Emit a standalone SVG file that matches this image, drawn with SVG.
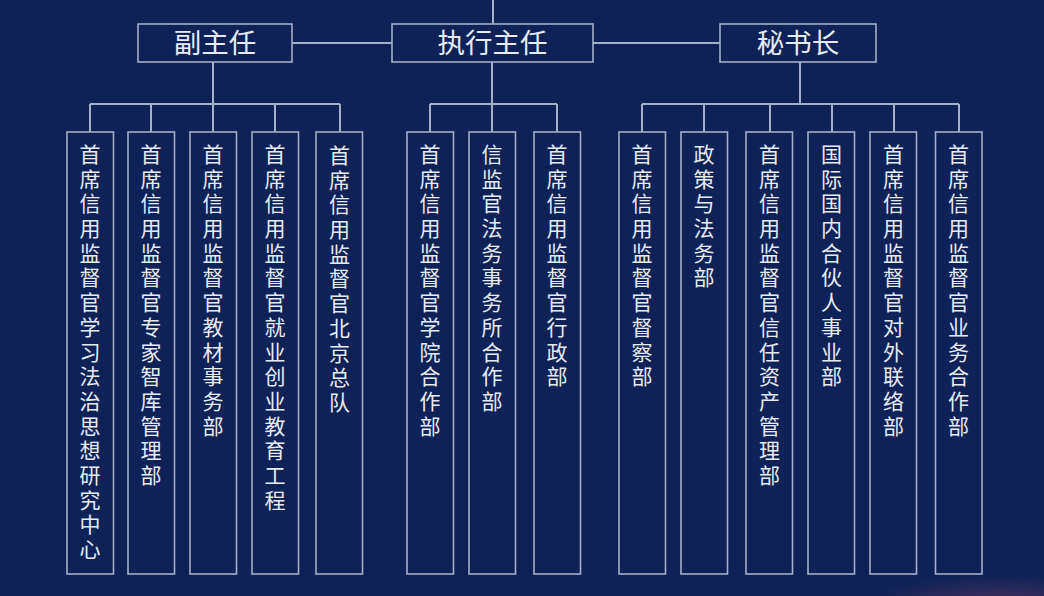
<svg xmlns="http://www.w3.org/2000/svg" width="1044" height="596" viewBox="0 0 1044 596">
<defs>
<style>
.bg{fill:#0e2257}
.box{fill:none;stroke:#a3b0c8;stroke-width:1.6}
.ln{fill:none;stroke:#a3b0c8;stroke-width:2}
.t1{font-family:"Noto Sans CJK SC","Noto Sans",sans-serif;font-size:27.5px;fill:#e6ebf3;text-anchor:middle}
.t2{font-family:"Noto Sans CJK SC","Noto Sans",sans-serif;font-size:21px;fill:#e6ebf3;writing-mode:vertical-rl;text-orientation:upright;letter-spacing:3.7px;text-anchor:start}
</style>
<radialGradient id="glow" cx="0.5" cy="0.5" r="0.5">
<stop offset="0" stop-color="#a84a62" stop-opacity="0.45"/>
<stop offset="1" stop-color="#a84a62" stop-opacity="0"/>
</radialGradient>
</defs>
<rect class="bg" x="0" y="0" width="1044" height="596"/>
<ellipse cx="1000" cy="612" rx="140" ry="38" fill="url(#glow)"/>

<g id="connectors">
<path class="ln" d="M493 0V24"/>
<path class="ln" d="M292 43H392M593 43H720"/>
<path class="ln" d="M213 62V104M90 104H340M90 104V132M151 104V132M213 104V132M275 104V132M340 104V132"/>
<path class="ln" d="M492 62V132M430 104H557M430 104V132M557 104V132"/>
<path class="ln" d="M800 62V104M642 104H959M642 104V132M704 104V132M770 104V132M832 104V132M894 104V132M959 104V132"/>
</g>

<g id="n-fuzhuren"><rect class="box" x="138" y="24" width="154" height="38"/><text class="t1" x="215" y="53">副主任</text></g>
<g id="n-zhixingzhuren"><rect class="box" x="392" y="24" width="201" height="38"/><text class="t1" x="492.5" y="53">执行主任</text></g>
<g id="n-mishuzhang"><rect class="box" x="720" y="24" width="156" height="38"/><text class="t1" x="798" y="53">秘书长</text></g>

<g id="n-l1"><rect class="box" x="67" y="132" width="46.5" height="442"/><text class="t2" x="90" y="143.5">首席信用监督官学习法治思想研究中心</text></g>
<g id="n-l2"><rect class="box" x="128" y="132" width="46.5" height="442"/><text class="t2" x="151" y="143.5">首席信用监督官专家智库管理部</text></g>
<g id="n-l3"><rect class="box" x="190" y="132" width="46.5" height="442"/><text class="t2" x="213" y="143.5">首席信用监督官教材事务部</text></g>
<g id="n-l4"><rect class="box" x="252" y="132" width="46.5" height="442"/><text class="t2" x="275" y="143.5">首席信用监督官就业创业教育工程</text></g>
<g id="n-l5"><rect class="box" x="316" y="132" width="46.5" height="442"/><text class="t2" x="339.5" y="144.5">首席信用监督官北京总队</text></g>

<g id="n-m1"><rect class="box" x="407" y="132" width="46.5" height="442"/><text class="t2" x="430" y="143.5">首席信用监督官学院合作部</text></g>
<g id="n-m2"><rect class="box" x="469" y="132" width="46.5" height="442"/><text class="t2" x="492" y="143.5">信监官法务事务所合作部</text></g>
<g id="n-m3"><rect class="box" x="534" y="132" width="46.5" height="442"/><text class="t2" x="557" y="143.5">首席信用监督官行政部</text></g>

<g id="n-r1"><rect class="box" x="619" y="132" width="46.5" height="442"/><text class="t2" x="642" y="143.5">首席信用监督官督察部</text></g>
<g id="n-r2"><rect class="box" x="681" y="132" width="46.5" height="442"/><text class="t2" x="704" y="143.5">政策与法务部</text></g>
<g id="n-r3"><rect class="box" x="746" y="132" width="46.5" height="442"/><text class="t2" x="769.5" y="143.5">首席信用监督官信任资产管理部</text></g>
<g id="n-r4"><rect class="box" x="808" y="132" width="46.5" height="442"/><text class="t2" x="831.5" y="143.5">国际国内合伙人事业部</text></g>
<g id="n-r5"><rect class="box" x="870" y="132" width="46.5" height="442"/><text class="t2" x="893.5" y="143.5">首席信用监督官对外联络部</text></g>
<g id="n-r6"><rect class="box" x="935.5" y="132" width="46.5" height="442"/><text class="t2" x="958.5" y="143.5">首席信用监督官业务合作部</text></g>
</svg>
